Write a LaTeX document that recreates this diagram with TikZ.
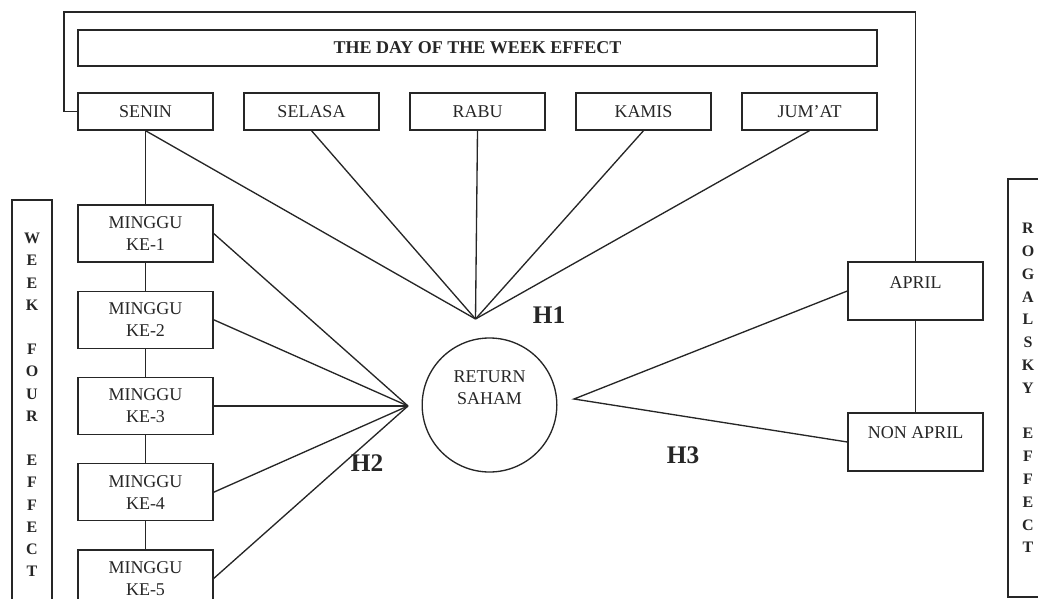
\documentclass[tikz,border=0pt]{standalone}
\usepackage{fontspec}
\setmainfont{Liberation Serif}
\usetikzlibrary{shapes.geometric}
\newcommand{\txt}{\fontsize{13.5}{16.5}\selectfont}
\tikzset{
  box/.style={draw,minimum width=101.25pt,minimum height=27.75pt,inner sep=0pt,align=center,font=\txt},
  weekbox/.style={box,minimum height=42.75pt},
  monthbox/.style={box,minimum height=43.5pt},
  lbl/.style={font=\txt,align=center},
  panel/.style={draw,minimum width=30pt,inner sep=0pt,align=center},
  hlab/.style={font=\bfseries\fontsize{19}{22}\selectfont},
}
\begin{document}
\begin{tikzpicture}[x=0.75pt,y=-0.75pt,line width=1pt,color=black!85]
     \clip (0,0) rectangle (1038,599);
     % day of the week
     \node[box,minimum width=599.25pt,minimum height=27pt,font=\bfseries\txt] (title) at (477.5,48) {THE DAY OF THE WEEK EFFECT};
     \foreach \d/\n [count=\i] in {senin/SENIN,selasa/SELASA,rabu/RABU,kamis/KAMIS,jumat/JUM'AT}
      \node[box] (\d) at ({145.5+166*(\i-1)},111.5) {\n};
     % week four
     \foreach \i in {1,...,5}
      \node[weekbox] (wk\i) at (145.5,{233.5+86.25*(\i-1)}) {MINGGU\\KE-\i};
     % rogalsky
     \node[monthbox,label={[lbl,yshift=6pt]center:APRIL}] (april) at (915.5,291) {};
     \node[monthbox,label={[lbl,yshift=6.75pt]center:NON APRIL}] (nonapril) at (915.5,442) {};
     \node[draw,ellipse,minimum width=101pt,minimum height=100.5pt,inner sep=0pt,
      label={[lbl,yshift=13pt]center:RETURN\\SAHAM}] (saham) at (489.5,405) {};
     \coordinate (h1) at (475.5,319);
     \coordinate (h2) at (408,406);
     \coordinate (h3) at (574,399);
     \coordinate (fl) at (64,12);
     \coordinate (fr) at (915.5,12);
     \draw (senin.west) -| (fl) -- (fr) -- (april.north);
     \foreach \d in {senin,selasa,rabu,kamis,jumat}
      \draw (\d.south) -- (h1);
     \draw (senin.south) -- (wk1.north);
     \foreach \i [evaluate=\i as \j using int(\i+1)] in {1,...,4}
      \draw (wk\i.south) -- (wk\j.north);
     \foreach \i in {1,...,5}
      \draw (wk\i.east) -- (h2);
     \draw (april.west) -- (h3) -- (nonapril.west);
     \draw (april.south) -- (nonapril.north);
     \node[hlab] (lh1) at (549,315) {H1};
     \node[hlab] (lh2) at (367,463) {H2};
     \node[hlab] (lh3) at (683,455) {H3};
     % side panels
     \node[panel,minimum height=307.5pt,font=\bfseries\fontsize{12}{16.65}\selectfont] (wfe) at (32,405)
      {W\\E\\E\\K\\[16.65pt]F\\O\\U\\R\\[16.65pt]E\\F\\F\\E\\C\\T};
     \node[panel,minimum height=313.5pt,font=\bfseries\fontsize{12}{17.1}\selectfont] (rge) at (1028,388)
      {R\\O\\G\\A\\L\\S\\K\\Y\\[17.1pt]E\\F\\F\\E\\C\\T};
    \end{tikzpicture}
\end{document}
